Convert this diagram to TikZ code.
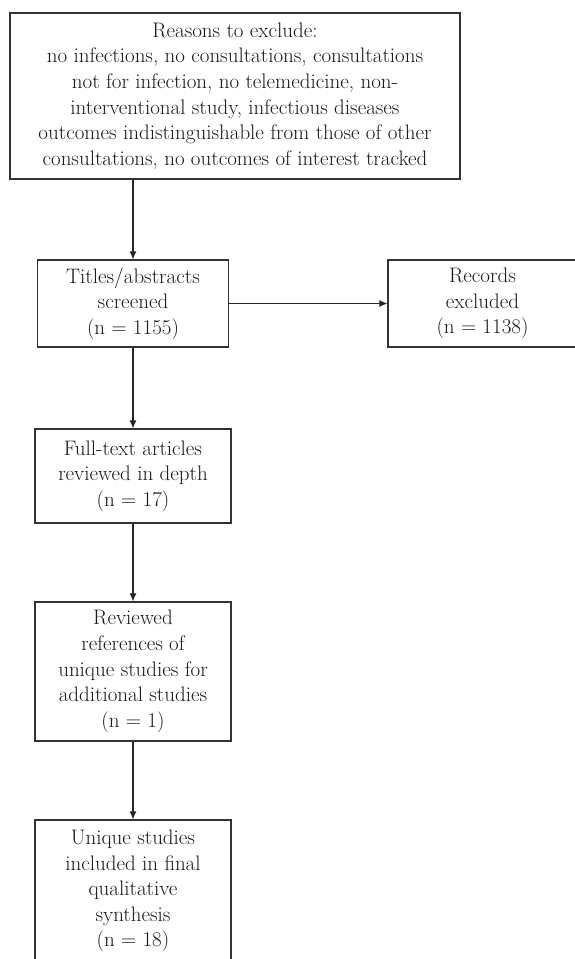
\documentclass[tikz,border=0pt]{standalone}
\usepackage{fontspec}
\usetikzlibrary{positioning, arrows.meta}

\begin{document}
\begin{tikzpicture}[x=1pt, y=-1pt,
    box/.style={draw=black!80, line width=1.2pt, align=center, inner sep=0pt, text=black!90, font=\fontsize{21}{25.6}\selectfont},
    flow/.style={draw=black!85, line width=1.1pt, -{Latex[length=8pt, width=7pt]}}]

\useasboundingbox (0,0) rectangle (575,959);

% Reasons to exclude
\node[box, minimum width=450pt, minimum height=166pt] (reasons) at (235,96) {Reasons to exclude:\\no infections, no consultations, consultations\\not for infection, no telemedicine, non-\\interventional study, infectious diseases\\outcomes indistinguishable from those of other\\consultations, no outcomes of interest tracked};

% screened
\node[box, minimum width=191pt, minimum height=87pt] (screened) at (133,303.5) {Titles/abstracts\\screened\\(n = 1155)};

% excluded
\node[box, minimum width=189pt, minimum height=87pt] (excluded) at (482.5,303.5) {Records\\excluded\\(n = 1138)};

% full text
\node[box, minimum width=196pt, minimum height=94pt] (fulltext) at (133,476) {Full-text articles\\reviewed in depth\\(n = 17)};

% references
\node[box, minimum width=196pt, minimum height=139pt] (refs) at (133,671.5) {Reviewed\\references of\\unique studies for\\additional studies\\(n = 1)};

% final synthesis
\node[box, minimum width=196pt, minimum height=142pt] (final) at (133,891) {Unique studies\\included in final\\qualitative\\synthesis\\(n = 18)};

\draw [flow] (reasons.south -| screened.north) -- (screened.north);
\draw [flow] (screened.east) -- (excluded.west);
\draw [flow] (screened.south) -- (fulltext.north);
\draw [flow] (fulltext.south) -- (refs.north);
\draw [flow] (refs.south) -- (final.north);

\end{tikzpicture}
\end{document}
